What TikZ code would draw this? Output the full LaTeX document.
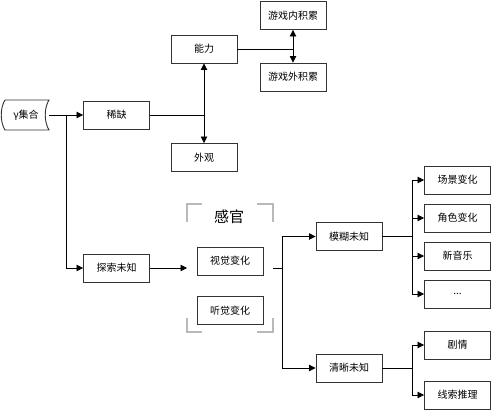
\documentclass[tikz,border=0pt]{standalone}
\usepackage{fontspec}
\usepackage{xcolor}
\usepackage{tikz}
\usetikzlibrary{arrows.meta}
\newfontfamily\cjk{Noto Sans CJK SC}

\tikzset{
  box/.style={draw=black!80, line width=0.9pt, minimum width=66pt, minimum height=28pt,
    inner sep=0pt, font=\cjk\fontsize{10}{12}\selectfont},
  corner/.style={draw=black!85, line width=0.6pt, double=gray!55, double distance=1.3pt}
}

\begin{document}
\begin{tikzpicture}[x=1pt, y=-1pt, >={Triangle[length=6.5pt,width=6.5pt]}, line width=0.8pt]
        \useasboundingbox (0,0) rectangle (492,411);

        \node[font=\cjk\fontsize{10}{12}\selectfont, minimum width=45pt, minimum height=30pt, inner sep=0pt] (set) at (26,115) {γ集合};
        \draw[black!80, line width=0.9pt] (5,100) -- (49,100) .. controls (44,108) and (44,122) .. (49,130)
            -- (5,130) .. controls (0,122) and (0,108) .. (5,100);

        \node[box] (scarce) at (116.5,115) {稀缺};
        \node[box] (ability) at (204,49) {能力};
        \node[box] (inner) at (293,15.5) {游戏内积累};
        \node[box] (outer) at (293,77) {游戏外积累};
        \node[box] (look) at (204,157.5) {外观};

        \node[box] (explore) at (116.5,268) {探索未知};
        \node[box] (visual) at (230,261) {视觉变化};
        \node[box] (audio) at (230,310.5) {听觉变化};
        \node[font=\cjk\fontsize{15}{18}\selectfont] (sense) at (229,217) {感官};
        \coordinate (gl) at (187,268);
        \coordinate (gr) at (273,268);

        \node[box] (vague) at (349,236.5) {模糊未知};
        \node[box] (clear) at (349,368) {清晰未知};

        \node[box] (scene) at (457.5,180) {场景变化};
        \node[box] (role) at (457.5,218) {角色变化};
        \node[box] (music) at (457.5,256) {新音乐};
        \node[box] (more) at (457.5,294) {...};
        \node[box] (plot) at (457.5,345) {剧情};
        \node[box] (clue) at (457.5,395) {线索推理};

        % 感官 brackets
        \draw[corner] (187,222) -- (187,204) -- (202,204);
        \draw[corner] (257,204) -- (273,204) -- (273,222);
        \draw[corner] (187,318) -- (187,332) -- (202,332);
        \draw[corner] (257,332) -- (273,332) -- (273,318);

        \draw[->] (set.east) -- (scarce);
        \draw[->] (66,115) |- (explore);
        \draw (scarce) -- (ability.center |- scarce);
        \draw[<->] (ability) -- (look);
        \draw (ability) -- (inner.center |- ability);
        \draw[<->] (inner) -- (outer);

        \draw[->] (explore) -- (gl);
        \draw (gr) -- (282,268);
        \draw[->] (282,268) |- (vague);
        \draw[->] (282,268) |- (clear);

        \draw (vague) -- (412,236.5);
        \foreach \n in {scene,role,music,more}
            \draw[->] (412,236.5) |- (\n);
        \draw (clear) -- (412,368);
        \foreach \n in {plot,clue}
            \draw[->] (412,368) |- (\n);
    \end{tikzpicture}
\end{document}
